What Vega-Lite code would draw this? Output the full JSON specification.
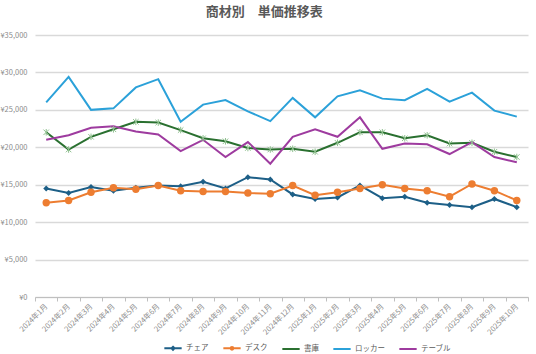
{
  "$schema": "https://vega.github.io/schema/vega-lite/v6.json",
  "width": 493,
  "height": 262,
  "autosize": {"type": "none"},
  "padding": {"left": 35, "top": 35, "right": 8, "bottom": 57},
  "background": "white",
  "title": {"text": "商材別　単価推移表", "anchor": "middle", "frame": "bounds", "fontSize": 13, "fontWeight": "bold", "color": "#595959", "font": "Noto Sans CJK JP", "offset": 12},
  "config": {
    "font": "Noto Sans CJK JP",
    "view": {"stroke": null}
  },
  "data": {"values": [
    {"month": "2024年1月", "チェア": 14500, "デスク": 12600, "書庫": 22000, "ロッカー": 26000, "テーブル": 21000},
    {"month": "2024年2月", "チェア": 13900, "デスク": 12900, "書庫": 19700, "ロッカー": 29400, "テーブル": 21600},
    {"month": "2024年3月", "チェア": 14700, "デスク": 14000, "書庫": 21400, "ロッカー": 25000, "テーブル": 22600},
    {"month": "2024年4月", "チェア": 14200, "デスク": 14600, "書庫": 22400, "ロッカー": 25200, "テーブル": 22800},
    {"month": "2024年5月", "チェア": 14600, "デスク": 14400, "書庫": 23400, "ロッカー": 28000, "テーブル": 22100},
    {"month": "2024年6月", "チェア": 14900, "デスク": 14900, "書庫": 23300, "ロッカー": 29100, "テーブル": 21700},
    {"month": "2024年7月", "チェア": 14800, "デスク": 14200, "書庫": 22300, "ロッカー": 23400, "テーブル": 19500},
    {"month": "2024年8月", "チェア": 15400, "デスク": 14100, "書庫": 21200, "ロッカー": 25700, "テーブル": 21000},
    {"month": "2024年9月", "チェア": 14500, "デスク": 14100, "書庫": 20800, "ロッカー": 26300, "テーブル": 18700},
    {"month": "2024年10月", "チェア": 16000, "デスク": 13900, "書庫": 19900, "ロッカー": 24800, "テーブル": 20700},
    {"month": "2024年11月", "チェア": 15700, "デスク": 13800, "書庫": 19700, "ロッカー": 23500, "テーブル": 17800},
    {"month": "2024年12月", "チェア": 13700, "デスク": 14900, "書庫": 19800, "ロッカー": 26600, "テーブル": 21400},
    {"month": "2025年1月", "チェア": 13100, "デスク": 13600, "書庫": 19400, "ロッカー": 24000, "テーブル": 22400},
    {"month": "2025年2月", "チェア": 13300, "デスク": 14000, "書庫": 20600, "ロッカー": 26800, "テーブル": 21400},
    {"month": "2025年3月", "チェア": 14900, "デスク": 14500, "書庫": 22000, "ロッカー": 27600, "テーブル": 24000},
    {"month": "2025年4月", "チェア": 13200, "デスク": 15000, "書庫": 22000, "ロッカー": 26500, "テーブル": 19800},
    {"month": "2025年5月", "チェア": 13400, "デスク": 14500, "書庫": 21200, "ロッカー": 26300, "テーブル": 20500},
    {"month": "2025年6月", "チェア": 12600, "デスク": 14200, "書庫": 21600, "ロッカー": 27800, "テーブル": 20400},
    {"month": "2025年7月", "チェア": 12300, "デスク": 13400, "書庫": 20500, "ロッカー": 26100, "テーブル": 19100},
    {"month": "2025年8月", "チェア": 12000, "デスク": 15100, "書庫": 20600, "ロッカー": 27300, "テーブル": 20700},
    {"month": "2025年9月", "チェア": 13100, "デスク": 14200, "書庫": 19400, "ロッカー": 24900, "テーブル": 18700},
    {"month": "2025年10月", "チェア": 12000, "デスク": 12900, "書庫": 18700, "ロッカー": 24100, "テーブル": 18000}
  ]},
  "transform": [
    {"fold": ["チェア", "デスク", "書庫", "ロッカー", "テーブル"], "as": ["item", "price"]}
  ],
  "encoding": {
    "x": {
      "field": "month", "type": "ordinal", "sort": null,
      "scale": {"type": "band", "paddingInner": 0, "paddingOuter": 0},
      "axis": {"title": null, "labelAngle": -45, "labelAlign": "right", "labelBaseline": "middle", "labelFontSize": 7.5, "labelColor": "#8c8c8c", "domainColor": "#bfbfbf", "tickColor": "#bfbfbf", "tickSize": 4, "tickBand": "extent", "labelPadding": 4, "grid": false}
    },
    "y": {
      "field": "price", "type": "quantitative",
      "scale": {"domain": [0, 35000], "nice": false},
      "axis": {"title": null, "values": [0, 5000, 10000, 15000, 20000, 25000, 30000, 35000], "labelExpr": "'¥' + format(datum.value, ',')", "labelFontSize": 7.5, "labelColor": "#8c8c8c", "labelPadding": 8, "ticks": false, "domain": false, "gridColor": "#d9d9d9", "gridWidth": 1.5}
    }
  },
  "layer": [
    {
      "mark": {"type": "line", "strokeWidth": 2},
      "encoding": {
        "color": {
          "field": "item", "type": "nominal",
          "scale": {"domain": ["チェア", "デスク", "書庫", "ロッカー", "テーブル"], "range": ["#1d5f87", "#ed7d31", "#2a7030", "#2ba1d9", "#9e3b9f"]},
          "legend": {
            "orient": "none", "legendX": 128, "legendY": 303, "direction": "horizontal", "title": null,
            "symbolType": "stroke", "symbolSize": 300, "symbolStrokeWidth": 2,
            "labelFontSize": 7.5, "labelColor": "#595959", "columnPadding": 10, "labelOffset": 3,
            "encode": {"symbols": {"update": {
              "shape": {"signal": "datum.value === 'チェア' ? 'M-1,0H1M0,-0.17L0.17,0L0,0.17L-0.17,0Z' : datum.value === 'デスク' ? 'M-1,0H1M0.15,0A0.15,0.15,0,1,1,-0.15,0A0.15,0.15,0,1,1,0.15,0Z' : 'M-1,0H1'"},
              "fill": {"signal": "scale('color', datum.value)"}
            }}}
          }
        }
      }
    },
    {
      "transform": [{"filter": "datum.item === 'チェア' || datum.item === 'デスク'"}],
      "mark": {"type": "point", "filled": true, "opacity": 1},
      "encoding": {
        "color": {"field": "item", "type": "nominal", "legend": null},
        "shape": {"field": "item", "type": "nominal", "scale": {"domain": ["チェア", "デスク"], "range": ["diamond", "circle"]}, "legend": null},
        "size": {"field": "item", "type": "nominal", "scale": {"domain": ["チェア", "デスク"], "range": [35, 55]}, "legend": null}
      }
    },
    {
      "transform": [{"filter": "datum.item === '書庫'"}],
      "mark": {"type": "point", "filled": false, "shape": "M-1,-1L1,1M-1,1L1,-1M0,-1.2L0,1.2", "size": 30, "color": "#8fc08f", "strokeWidth": 1, "opacity": 1},
      "encoding": {}
    }
  ]
}
